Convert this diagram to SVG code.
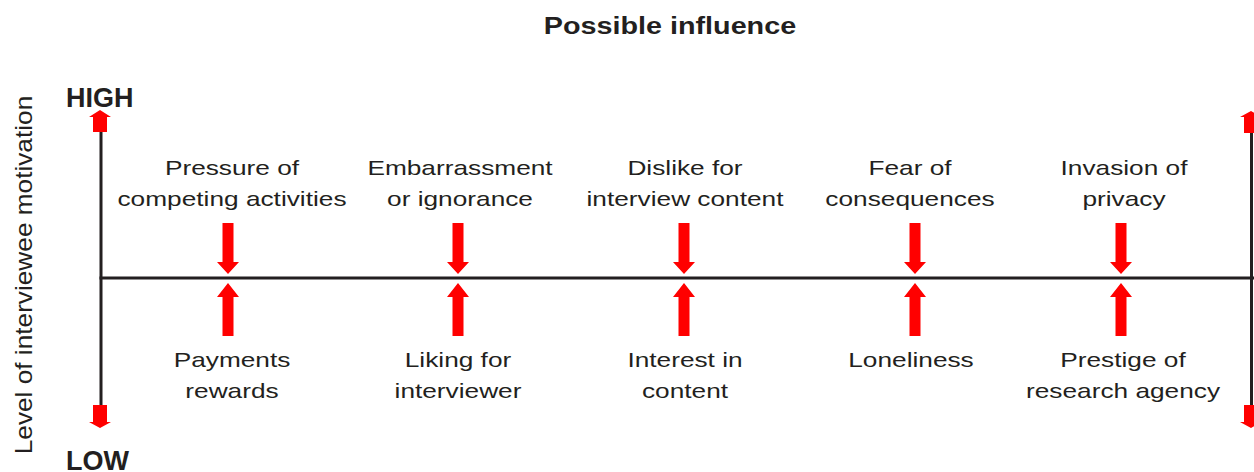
<svg xmlns="http://www.w3.org/2000/svg" width="1254" height="472" viewBox="0 0 1254 472">
<style>
.t{font-family:"Liberation Sans",Arial,sans-serif;font-size:21px;fill:#231f20;text-anchor:middle}
.b{font-family:"Liberation Sans",Arial,sans-serif;font-weight:bold;fill:#231f20}
.ax{stroke:#231f20;stroke-width:3;fill:none}
.red{fill:#ff0000}
</style>
<defs>
<polygon id="dn" class="red" points="-5.5,-55 5.5,-55 5.5,-16 11,-16 0,-4 -11,-16 -5.5,-16"/>
<polygon id="up" class="red" points="-5.5,58 5.5,58 5.5,19 11,19 0,5 -11,19 -5.5,19"/>
</defs>
<rect width="1254" height="472" fill="#ffffff"/>
<text class="b" font-size="23" transform="translate(670,34) scale(1.25,1)" text-anchor="middle">Possible influence</text>
<text class="t" font-size="23" style="font-size:23px" transform="translate(32,275) rotate(-90) scale(1.14,1)">Level of interviewee motivation</text>
<text class="b" font-size="27" x="66" y="107">HIGH</text>
<text class="b" font-size="27" x="66" y="470">LOW</text>
<g id="axes">
<line class="ax" x1="101" y1="130" x2="101" y2="407"/>
<line class="ax" x1="1251.5" y1="130" x2="1251.5" y2="407"/>
<line class="ax" x1="99.5" y1="278" x2="1254" y2="278" stroke-width="4.5"/>
<polygon class="red" points="100,110 111,117 107,117 107,132 93,132 93,117 89,117"/>
<polygon class="red" points="100,428 111,422 107,422 107,405 93,405 93,422 89,422"/>
<polygon class="red" points="1251,111 1262,117 1258,117 1258,133 1244,133 1244,117 1240,117"/>
<polygon class="red" points="1251,428 1262,422 1258,422 1258,405 1244,405 1244,422 1240,422"/>
</g>
<g id="connectors">
<use href="#dn" x="228" y="278"/><use href="#up" x="228" y="278"/>
<use href="#dn" x="458" y="278"/><use href="#up" x="458" y="278"/>
<use href="#dn" x="684" y="278"/><use href="#up" x="684" y="278"/>
<use href="#dn" x="915" y="278"/><use href="#up" x="915" y="278"/>
<use href="#dn" x="1121" y="278"/><use href="#up" x="1121" y="278"/>
</g>
<g id="n1"><text class="t" transform="translate(232,175) scale(1.25,1)">Pressure of</text><text class="t" transform="translate(232,206) scale(1.25,1)">competing activities</text></g>
<g id="n2"><text class="t" transform="translate(460,175) scale(1.25,1)">Embarrassment</text><text class="t" transform="translate(460,206) scale(1.25,1)">or ignorance</text></g>
<g id="n3"><text class="t" transform="translate(685,175) scale(1.25,1)">Dislike for</text><text class="t" transform="translate(685,206) scale(1.25,1)">interview content</text></g>
<g id="n4"><text class="t" transform="translate(910,175) scale(1.25,1)">Fear of</text><text class="t" transform="translate(910,206) scale(1.25,1)">consequences</text></g>
<g id="n5"><text class="t" transform="translate(1124,175) scale(1.25,1)">Invasion of</text><text class="t" transform="translate(1124,206) scale(1.25,1)">privacy</text></g>
<g id="n6"><text class="t" transform="translate(232,367) scale(1.25,1)">Payments</text><text class="t" transform="translate(232,398) scale(1.25,1)">rewards</text></g>
<g id="n7"><text class="t" transform="translate(458,367) scale(1.25,1)">Liking for</text><text class="t" transform="translate(458,398) scale(1.25,1)">interviewer</text></g>
<g id="n8"><text class="t" transform="translate(685,367) scale(1.25,1)">Interest in</text><text class="t" transform="translate(685,398) scale(1.25,1)">content</text></g>
<g id="n9"><text class="t" transform="translate(911,367) scale(1.25,1)">Loneliness</text></g>
<g id="n10"><text class="t" transform="translate(1123,367) scale(1.25,1)">Prestige of</text><text class="t" transform="translate(1123,398) scale(1.25,1)">research agency</text></g>
</svg>
